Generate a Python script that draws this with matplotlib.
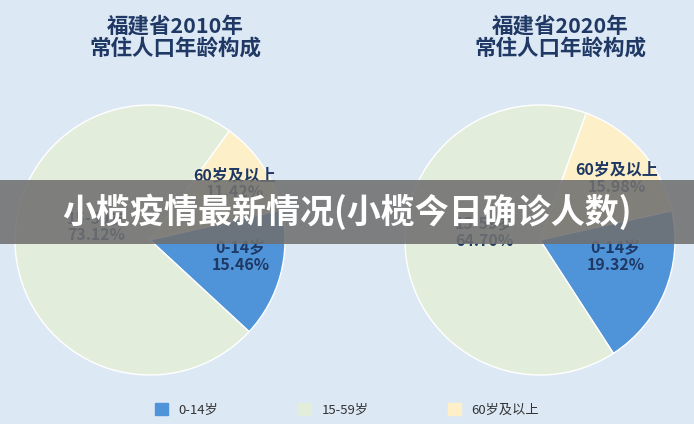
import matplotlib.pyplot as plt
from matplotlib.patches import Rectangle, Patch

plt.rcParams['font.family'] = ['Noto Sans CJK SC', 'DejaVu Sans']

groups = ['60岁及以上', '0-14岁', '15-59岁']
share_2010 = [11.42, 15.46, 73.12]
share_2020 = [15.98, 19.32, 64.70]
titles = ['福建省2010年\n常住人口年龄构成', '福建省2020年\n常住人口年龄构成']
banner = '小榄疫情最新情况(小榄今日确诊人数)'

colors = ['#fdf0c8', '#4f94d8', '#e2eedb']
navy = '#1f3864'
bg = '#dde8f5'

fig = plt.figure(figsize=(6.94, 4.24), dpi=100)
fig.patch.set_facecolor(bg)

specs = [
    (150, share_2010, 54, [(0.63, 0.42), (0.67, -0.12), (-0.40, 0.10)], 175),
    (540, share_2020, 70, [(0.57, 0.46), (0.56, -0.12), (-0.41, 0.06)], 560),
]
for (cx, vals, start, pos, tx), title in zip(specs, titles):
    ax = fig.add_axes([(cx - 135) / 694, (424 - 240 - 135) / 424, 270 / 694, 270 / 424])
    ax.pie(vals, colors=colors, startangle=start, counterclock=False,
           wedgeprops=dict(edgecolor='white', linewidth=1))
    ax.set_xlim(-1, 1)
    ax.set_ylim(-1, 1)
    for (x, y), g, v in zip(pos, groups, vals):
        ax.text(x, y, f'{g}\n{v:.2f}%', ha='center', va='center', color=navy,
                fontsize=11.5, fontweight='bold', linespacing=1.1)
    fig.text(tx / 694, 1 - 37 / 424, title, ha='center', va='center', color=navy,
             fontsize=15.5, fontweight='bold', linespacing=1.1)

fig.patches.append(Rectangle((0, (424 - 244) / 424), 1, 64 / 424, transform=fig.transFigure,
                             facecolor='#707070', alpha=0.88, zorder=5))
fig.text(0.5, 1 - 212 / 424, banner, ha='center', va='center', color='white',
         fontsize=24.5, fontweight='bold', zorder=6)

handles = [Patch(color=colors[1]), Patch(color=colors[2]), Patch(color=colors[0])]
fig.legend(handles, ['0-14岁', '15-59岁', '60岁及以上'], loc='center', ncol=3,
           bbox_to_anchor=(0.5, 1 - 410 / 424), frameon=False, fontsize=9.5,
           handlelength=1.0, handleheight=1.0, columnspacing=6, labelcolor='#333333')

fig.savefig('out.png', dpi=100, facecolor=bg)
